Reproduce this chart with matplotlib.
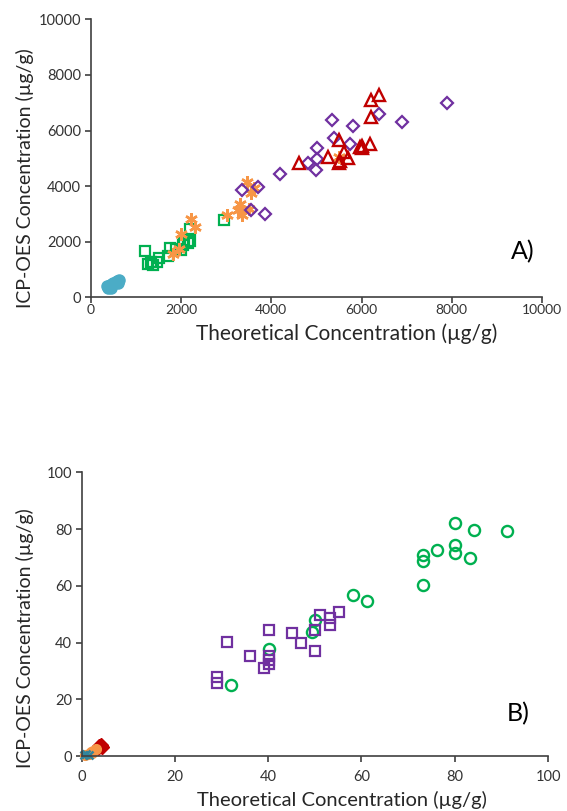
import matplotlib
matplotlib.use("Agg")
import matplotlib.pyplot as plt

plt.rcParams['font.family'] = ['Lato', 'DejaVu Sans']

# ---- panel A: major elements (µg/g) ----
a_cyan_x = [350, 400, 420, 450, 480, 500, 550, 580, 620, 600, 380, 450]
a_cyan_y = [400, 380, 450, 430, 480, 500, 550, 600, 620, 520, 330, 350]

a_green_x = [1200, 1340, 1280, 1390, 1460, 1510, 1710, 1760, 1900, 1990, 2050, 2070, 2160, 2210, 2200, 2950]
a_green_y = [1680, 1270, 1210, 1180, 1280, 1400, 1500, 1770, 1750, 1690, 1870, 2040, 1940, 2040, 2450, 2770]

a_orange_x = [1830, 1950, 1990, 2230, 2310, 3030, 3310, 3270, 3350, 3470, 3550, 3620, 3510, 5500]
a_orange_y = [1570, 1750, 2290, 2830, 2530, 2950, 3370, 3130, 2950, 4160, 3740, 3920, 3190, 5060]

a_purple_x = [3350, 3700, 3550, 3860, 4200, 4820, 5020, 5000, 5020, 5340, 5400, 5820, 5750, 6390, 6890, 7890]
a_purple_y = [3860, 3980, 3130, 3010, 4430, 4820, 5360, 4580, 4960, 6360, 5720, 6170, 5520, 6600, 6290, 6990]

a_red_x = [4620, 5260, 5500, 5620, 5700, 5500, 5520, 5960, 6000, 6020, 6180, 6220, 6220, 6390]
a_red_y = [4840, 5060, 5660, 5240, 5000, 4820, 4900, 5400, 5430, 5360, 5520, 6480, 7110, 7290]

# ---- panel B: trace elements (µg/g) ----
b_green_x = [32.0, 40.1, 50.1, 49.3, 58.2, 61.1, 73.2, 73.2, 73.2, 76.2, 80.1, 80.1, 80.1, 83.2, 84.1, 91.2]
b_green_y = [25.0, 37.8, 47.9, 43.8, 56.8, 54.8, 60.3, 70.9, 68.9, 72.6, 82.0, 74.4, 71.4, 69.9, 79.7, 79.4]

b_purple_x = [29.1, 29.1, 31.1, 36.1, 40.1, 40.1, 40.1, 40.1, 39.1, 45.1, 47.1, 50.1, 50.1, 51.1, 53.2, 53.2, 55.2]
b_purple_y = [28.0, 25.9, 40.3, 35.4, 44.4, 35.3, 33.8, 32.4, 30.9, 43.5, 40.0, 44.4, 37.1, 49.7, 48.5, 46.2, 50.8]

b_cyan_x = [0.5, 1.0, 1.5]
b_cyan_y = [0.3, 0.8, 0.5]
b_orange_x = [0.8, 1.5, 2.0, 2.5, 3.0, 2.2]
b_orange_y = [0.2, 0.8, 1.3, 1.8, 2.4, 0.9]
b_red_x = [3.4, 3.8, 4.2, 4.4]
b_red_y = [2.8, 3.4, 3.9, 3.2]

CYAN = '#4BACC6'
GREEN = '#00B050'
ORANGE = '#F79646'
PURPLE = '#7030A0'
RED = '#C00000'
ASTERISK = (6, 2, 0)

fig = plt.figure(figsize=(5.67, 8.11), dpi=100)
ax_a = fig.add_axes([0.160, 0.6334, 0.796, 0.3428])
ax_b = fig.add_axes([0.1441, 0.0678, 0.8224, 0.3498])


def style_axes(ax, lim, step, xlabel_size, xpad, xlab_pos, ylab_pos):
    ax.set_xlim(0, lim)
    ax.set_ylim(0, lim)
    ax.set_xticks(range(0, lim + 1, step))
    ax.set_yticks(range(0, lim + 1, step))
    for side in ['top', 'right']:
        ax.spines[side].set_visible(False)
    for side in ['left', 'bottom']:
        ax.spines[side].set_color('#404040')
        ax.spines[side].set_linewidth(1.2)
    ax.tick_params(direction='out', length=4, width=1.2, color='#404040',
                   labelsize=10.5, labelcolor='#333333', pad=3)
    ax.tick_params(axis='x', pad=xpad)
    ax.set_xlabel('Theoretical Concentration (µg/g)', fontsize=xlabel_size,
                  color='#262626', va='center')
    ax.set_ylabel('ICP-OES Concentration (µg/g)', fontsize=14,
                  color='#262626', va='center')
    ax.xaxis.set_label_coords(*xlab_pos)
    ax.yaxis.set_label_coords(*ylab_pos)


# panel A
ax_a.plot(a_cyan_x, a_cyan_y, 'o', ms=8, color=CYAN, mec=CYAN)
ax_a.plot(a_green_x, a_green_y, 's', ms=7.5, mfc='none', mec=GREEN, mew=1.6)
ax_a.plot(a_orange_x, a_orange_y, ls='none', marker=ASTERISK, ms=9, mec=ORANGE, mew=1.8)
ax_a.plot(a_purple_x, a_purple_y, 'D', ms=6, mfc='none', mec=PURPLE, mew=1.6)
ax_a.plot(a_red_x, a_red_y, '^', ms=8, mfc='none', mec=RED, mew=1.7)
style_axes(ax_a, 10000, 2000, 15, 1, (0.568, -0.13), (-0.1456, 0.429))
ax_a.tick_params(axis='x', labelsize=10)
ax_a.text(0.958, 0.165, 'A)', transform=ax_a.transAxes, fontsize=18, ha='center', va='center')

# panel B
ax_b.plot(b_green_x, b_green_y, 'o', ms=8, mfc='none', mec=GREEN, mew=1.7)
ax_b.plot(b_purple_x, b_purple_y, 's', ms=7.5, mfc='none', mec=PURPLE, mew=1.6)
ax_b.plot(b_red_x, b_red_y, 'D', ms=7, color=RED, clip_on=False)
ax_b.plot(b_orange_x, b_orange_y, 'o', ms=7, color=ORANGE, clip_on=False)
ax_b.plot(b_cyan_x, b_cyan_y, 'x', ms=6, mec='#31859C', mew=1.8, clip_on=False)
style_axes(ax_b, 100, 20, 14.5, 6, (0.558, -0.155), (-0.1216, 0.416))
ax_b.text(0.935, 0.150, 'B)', transform=ax_b.transAxes, fontsize=18, ha='center', va='center')

fig.savefig('out.png', dpi=100)
